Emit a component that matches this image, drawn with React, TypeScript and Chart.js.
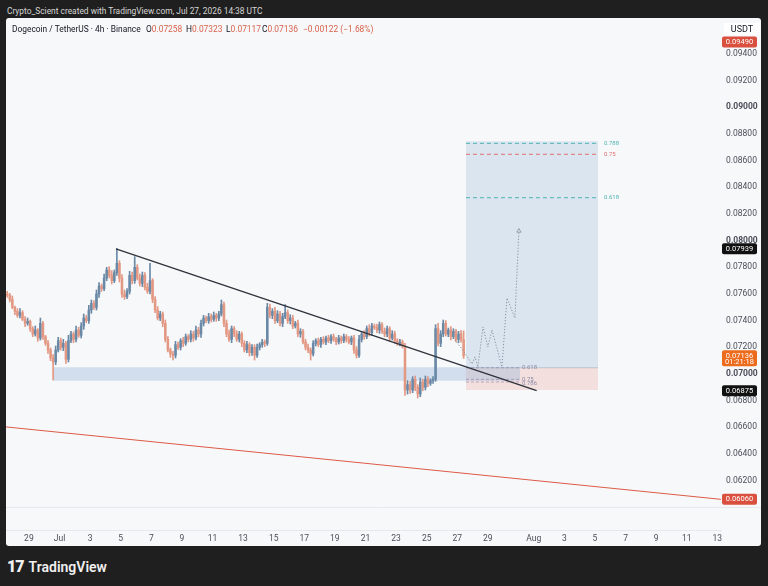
import { useEffect, useRef } from "react";
import { Chart, registerables } from "chart.js";

Chart.register(...registerables);

const FONT = "Roboto, 'Noto Sans', sans-serif";

// ---- candle data (prices in 1e-5 USDT units), 4h candles from Jun 27 12:00 ----
const CANDLE_START_DAY = -3.5; // days relative to Jul 1 00:00
const CANDLES_PER_DAY = 6;
const FIRST_OPEN = 7600;
const CLOSES = [
  7590, 7560, 7500, 7470, 7440, 7460, 7410, 7380, 7395, 7340, 7300, 7330, 7270, 7380, 7280, 7230, 7180, 7120, 7090, 7180,
  7250, 7200, 7230, 7110, 7250, 7300, 7260, 7330, 7290, 7360, 7420, 7400, 7480, 7530, 7500, 7600, 7660, 7640, 7720, 7780,
  7740, 7700, 7760, 7830, 7720, 7600, 7580, 7620, 7740, 7700, 7800, 7720, 7680, 7740, 7650, 7620, 7700, 7560, 7480, 7420,
  7450, 7380, 7260, 7180, 7150, 7140, 7220, 7200, 7250, 7230, 7280, 7260, 7300, 7270, 7330, 7300, 7380, 7420, 7400, 7430,
  7410, 7440, 7420, 7450, 7520, 7380, 7300, 7260, 7340, 7300, 7260, 7300, 7230, 7180, 7220, 7160, 7200, 7140, 7200, 7220,
  7240, 7230, 7500, 7440, 7470, 7400, 7450, 7380, 7430, 7460, 7400, 7420, 7360, 7380, 7300, 7320, 7240, 7200, 7180, 7150,
  7230, 7250, 7220, 7260, 7240, 7270, 7250, 7280, 7260, 7240, 7270, 7250, 7280, 7260, 7240, 7270, 7180, 7140, 7260, 7300,
  7280, 7340, 7310, 7360, 7350, 7330, 7370, 7320, 7300, 7340, 7270, 7300, 7250, 7230, 7240, 7210, 6880, 6920, 6880, 6960,
  6900, 6850, 6940, 6900, 6960, 6930, 6950, 6960, 7340, 7230, 7300, 7380, 7300, 7330, 7280, 7320, 7260, 7300, 7258, 7136,
];
const UP_WICKS = [
  20, 15, 25, 10, 20, 30, 15, 20, 25, 10, 15, 30, 10, 40, 15, 10, 20, 15, 25, 30,
  25, 20, 30, 15, 40, 20, 15, 30, 20, 25, 30, 20, 35, 25, 20, 30, 25, 15, 30, 20,
  25, 35, 20, 110, 20, 25, 30, 20, 30, 25, 80, 20, 30, 25, 20, 30, 130, 15, 20, 25,
  20, 15, 25, 20, 15, 20, 25, 20, 15, 25, 20, 15, 25, 20, 30, 20, 25, 20, 15, 25,
  20, 25, 15, 20, 35, 20, 25, 30, 20, 15, 25, 20, 15, 20, 25, 15, 20, 20, 25, 15,
  20, 15, 30, 25, 20, 30, 25, 20, 25, 60, 20, 25, 20, 15, 25, 20, 15, 20, 25, 15,
  20, 15, 20, 15, 20, 15, 20, 15, 20, 15, 20, 15, 20, 15, 20, 15, 20, 25, 30, 20,
  25, 20, 30, 20, 15, 25, 20, 15, 25, 20, 15, 25, 20, 15, 20, 15, 20, 30, 25, 20,
  25, 20, 30, 20, 25, 20, 15, 20, 30, 40, 25, 25, 20, 15, 25, 20, 15, 20, 25, 65,
];
const DOWN_WICKS = [
  15, 20, 10, 25, 15, 20, 10, 25, 15, 20, 20, 15, 25, 15, 20, 15, 25, 20, 135, 20,
  15, 20, 25, 30, 20, 15, 25, 20, 15, 20, 25, 15, 20, 25, 15, 20, 25, 20, 15, 20,
  20, 25, 15, 20, 30, 25, 20, 15, 20, 25, 20, 15, 20, 25, 20, 15, 20, 25, 20, 15,
  20, 25, 20, 15, 25, 35, 20, 15, 20, 25, 15, 20, 20, 25, 15, 20, 25, 20, 15, 20,
  20, 15, 25, 20, 15, 25, 20, 15, 25, 20, 15, 20, 25, 15, 20, 25, 20, 35, 15, 20,
  20, 25, 15, 20, 25, 20, 15, 20, 25, 15, 20, 25, 20, 15, 20, 25, 15, 20, 20, 45,
  15, 20, 15, 20, 15, 20, 15, 20, 15, 20, 15, 20, 15, 20, 15, 20, 25, 20, 15, 20,
  20, 15, 25, 20, 15, 20, 25, 15, 20, 20, 25, 15, 20, 15, 20, 15, 40, 30, 25, 20,
  25, 30, 20, 25, 20, 25, 15, 20, 15, 20, 25, 20, 15, 20, 25, 15, 20, 25, 20, 19,
];

// ---- axes ----
const X_MIN_DAY = -3.497;
const X_MAX_DAY = 43.24;
const X_TICK_DAYS = [-2, 0, 2, 4, 6, 8, 10, 12, 14, 16, 18, 20, 22, 24, 26, 28, 31, 33, 35, 37, 39, 41, 43];
const X_TICK_LABELS = ["29", "Jul", "3", "5", "7", "9", "11", "13", "15", "17", "19", "21", "23", "25", "27", "29", "Aug", "3", "5", "7", "9", "11", "13"];
const Y_MIN = 0.0583;
const Y_MAX = 0.0967;
const Y_TICKS = [0.062, 0.064, 0.066, 0.068, 0.07, 0.072, 0.074, 0.076, 0.078, 0.08, 0.082, 0.084, 0.086, 0.088, 0.09, 0.092, 0.094];

// ---- drawings ----
const TREND_DAYS = [3.69, 31.19];
const TREND_PRICES = [0.07939, 0.06875];
const RED_LINE_DAYS = [-3.497, 43.24];
const RED_LINE_PRICES = [0.06603, 0.0606];
const PROJECTION_DAYS = [25.85, 26.37, 26.96, 27.16, 27.35, 27.68, 28.0, 28.27, 28.92, 29.25, 29.77, 30.03];
const PROJECTION_PRICES = [0.07255, 0.0718, 0.07075, 0.07128, 0.07053, 0.07353, 0.07203, 0.0733, 0.07053, 0.0757, 0.0742, 0.08073];
const SUPPORT_DAYS = [-0.42, 30.1];
const SUPPORT_TOP = 0.0705;
const SUPPORT_BOTTOM = 0.0695;
const POSITION_DAYS = [26.57, 35.2];
const POSITION_ENTRY = 0.07047;
const POSITION_TARGET = 0.08745;
const POSITION_STOP = 0.0688;
const FIB_LABELS = ["0.788", "0.75", "0.618"];
const FIB_PRICES = [0.0873, 0.08648, 0.08322];
const FIB_COLORS = ["#4fb3b0", "#e06f6f", "#4fb3b0"];
const SMALL_FIB_DAYS = [26.57, 30.1];
const SMALL_FIB_LABELS = ["0.618", "0.75", "0.786"];
const SMALL_FIB_PRICES = [0.07047, 0.0696, 0.0694];
const PANE_DIVIDER_PRICE = 0.06005;

const BADGE_PRICES = [0.0949, 0.07939, 0.07136, 0.06875, 0.0606];
const BADGE_TEXTS = ["0.09490", "0.07939", "0.07136", "0.06875", "0.06060"];
const BADGE_SUBS = ["", "", "01:21:18", "", ""];
const BADGE_COLORS = ["#d9503f", "#111111", "#ec6b1c", "#111111", "#d9503f"];

const UP_COLOR = "#6a89a6";
const DOWN_COLOR = "#e39883";

const badgePlugin = {
  id: "tvDecor",
  beforeDatasetsDraw(chart: any) {
    const { ctx, scales } = chart;
    const py = Math.round(scales.y.getPixelForValue(PANE_DIVIDER_PRICE)) + 0.5;
    ctx.save();
    ctx.strokeStyle = "#e6e8ec";
    ctx.lineWidth = 1;
    ctx.beginPath();
    ctx.moveTo(0, py);
    ctx.lineTo(chart.width, py);
    ctx.stroke();
    ctx.restore();
  },
  afterDatasetsDraw(chart: any) {
    const { ctx, scales } = chart;
    const x = scales.x;
    const y = scales.y;
    ctx.save();
    ctx.font = `6px ${FONT}`;
    ctx.textAlign = "left";
    ctx.textBaseline = "middle";
    FIB_LABELS.forEach((t, i) => {
      ctx.fillStyle = FIB_COLORS[i];
      ctx.fillText(t, x.getPixelForValue(POSITION_DAYS[1]) + 6, y.getPixelForValue(FIB_PRICES[i]));
    });
    ctx.fillStyle = "#8c8aa8";
    SMALL_FIB_LABELS.forEach((t, i) => {
      ctx.fillText(t, x.getPixelForValue(SMALL_FIB_DAYS[1]) + 2, y.getPixelForValue(SMALL_FIB_PRICES[i]) + (i === 2 ? 1 : 0));
    });
    ctx.restore();
  },
  afterDraw(chart: any) {
    const { ctx, chartArea, scales } = chart;
    const y = scales.y;
    ctx.save();
    ctx.textAlign = "center";
    ctx.textBaseline = "middle";
    ctx.font = `7.5px ${FONT}`;
    BADGE_PRICES.forEach((p, i) => {
      const py = y.getPixelForValue(p);
      const sub = BADGE_SUBS[i];
      const h = sub ? 16 : 11;
      const top = sub ? py - 5.5 : py - h / 2;
      const left = chartArea.right + 1;
      ctx.fillStyle = BADGE_COLORS[i];
      ctx.beginPath();
      ctx.roundRect(left, top, 35, h, 2);
      ctx.fill();
      ctx.fillStyle = "#ffffff";
      ctx.fillText(BADGE_TEXTS[i], left + 17.5, top + 5.7);
      if (sub) ctx.fillText(sub, left + 17.5, top + 12);
    });
    ctx.restore();
  },
};

export default function App() {
  const canvasRef = useRef<HTMLCanvasElement | null>(null);

  useEffect(() => {
    document.body.style.margin = "0";
    const canvas = canvasRef.current;
    if (!canvas) return;

    const opens = CLOSES.map((c, i) => (i === 0 ? FIRST_OPEN : CLOSES[i - 1]));
    const days = CLOSES.map((_, i) => CANDLE_START_DAY + (i + 0.5) / CANDLES_PER_DAY);
    const colors = CLOSES.map((c, i) => (c >= opens[i] ? UP_COLOR : DOWN_COLOR));
    const bodies = CLOSES.map((c, i) => ({ x: days[i], y: [opens[i] / 1e5, c / 1e5] }));
    const wicks = CLOSES.map((c, i) => ({
      x: days[i],
      y: [(Math.min(opens[i], c) - DOWN_WICKS[i]) / 1e5, (Math.max(opens[i], c) + UP_WICKS[i]) / 1e5],
    }));

    const hLine = (from: number, to: number, price: number) => [
      { x: from, y: price },
      { x: to, y: price },
    ];

    const datasets: any[] = [
      {
        type: "line",
        data: hLine(SUPPORT_DAYS[0], SUPPORT_DAYS[1], SUPPORT_TOP),
        borderWidth: 0,
        pointRadius: 0,
        fill: { value: SUPPORT_BOTTOM },
        backgroundColor: "rgba(150,180,215,0.38)",
        order: 20,
      },
      {
        type: "line",
        data: hLine(POSITION_DAYS[0], POSITION_DAYS[1], POSITION_TARGET),
        borderWidth: 0,
        pointRadius: 0,
        fill: { value: POSITION_ENTRY },
        backgroundColor: "rgba(160,190,222,0.32)",
        order: 21,
      },
      {
        type: "line",
        data: hLine(POSITION_DAYS[0], POSITION_DAYS[1], POSITION_ENTRY),
        borderWidth: 0.8,
        borderColor: "rgba(120,130,150,0.5)",
        pointRadius: 0,
        fill: { value: POSITION_STOP },
        backgroundColor: "rgba(232,150,140,0.25)",
        order: 22,
      },
      ...FIB_PRICES.map((p, i) => ({
        type: "line",
        data: hLine(POSITION_DAYS[0], POSITION_DAYS[1], p),
        borderColor: FIB_COLORS[i],
        borderWidth: 1,
        borderDash: [4, 3],
        pointRadius: 0,
        order: 5,
      })),
      ...SMALL_FIB_PRICES.map((p) => ({
        type: "line",
        data: hLine(SMALL_FIB_DAYS[0], SMALL_FIB_DAYS[1], p),
        borderColor: "rgba(130,120,160,0.7)",
        borderWidth: 0.8,
        borderDash: [3, 2],
        pointRadius: 0,
        order: 5,
      })),
      {
        type: "bar",
        data: wicks,
        backgroundColor: colors,
        barThickness: 1,
        grouped: false,
        borderWidth: 0,
        order: 3,
      },
      {
        type: "bar",
        data: bodies,
        backgroundColor: colors,
        barThickness: 1.9,
        grouped: false,
        borderWidth: 0,
        minBarLength: 1,
        order: 2,
      },
      {
        type: "line",
        data: RED_LINE_DAYS.map((d, i) => ({ x: d, y: RED_LINE_PRICES[i] })),
        borderColor: "#dd5a46",
        borderWidth: 1,
        pointRadius: 0,
        order: 1,
      },
      {
        type: "line",
        data: TREND_DAYS.map((d, i) => ({ x: d, y: TREND_PRICES[i] })),
        borderColor: "#2f333c",
        borderWidth: 1.4,
        pointRadius: 0,
        order: 1,
      },
      {
        type: "line",
        data: PROJECTION_DAYS.map((d, i) => ({ x: d, y: PROJECTION_PRICES[i] })),
        borderColor: "#8a8f9a",
        borderWidth: 1,
        borderDash: [1.2, 1.8],
        pointRadius: PROJECTION_DAYS.map((_, i) => (i === PROJECTION_DAYS.length - 1 ? 2.5 : 0)),
        pointStyle: "triangle",
        pointBackgroundColor: "rgba(0,0,0,0)",
        pointBorderColor: "#8a8f9a",
        pointBorderWidth: 0.8,
        order: 0,
      },
    ];

    const chart = new Chart(canvas, {
      type: "bar",
      data: { datasets },
      plugins: [badgePlugin],
      options: {
        animation: false,
        responsive: false,
        maintainAspectRatio: false,
        layout: { padding: 0, autoPadding: false },
        plugins: { legend: { display: false }, tooltip: { enabled: false } },
        scales: {
          x: {
            type: "linear",
            min: X_MIN_DAY,
            max: X_MAX_DAY,
            offset: false,
            grid: { display: false, drawTicks: false },
            border: { display: true, color: "#e6e8ec" },
            afterBuildTicks: (scale: any) => {
              scale.ticks = X_TICK_DAYS.map((v) => ({ value: v }));
            },
            afterFit: (scale: any) => {
              scale.height = 16;
              scale.paddingLeft = 0;
              scale.paddingRight = 0;
            },
            ticks: {
              autoSkip: false,
              maxRotation: 0,
              padding: 4,
              color: "#4a4e59",
              font: { family: FONT, size: 8.5 },
              callback: (v: any) => X_TICK_LABELS[X_TICK_DAYS.indexOf(Number(v))] ?? "",
            },
          },
          y: {
            type: "linear",
            position: "right",
            min: Y_MIN,
            max: Y_MAX,
            grid: { display: false, drawTicks: false },
            border: { display: false },
            afterBuildTicks: (scale: any) => {
              scale.ticks = Y_TICKS.map((v) => ({ value: v }));
            },
            afterFit: (scale: any) => {
              scale.width = 40;
              scale.paddingTop = 0;
              scale.paddingBottom = 0;
            },
            ticks: {
              padding: 5,
              color: "#4a4e59",
              font: (ctx: any) => {
                const v = ctx.tick ? ctx.tick.value : 0;
                const round = Math.abs(v * 100 - Math.round(v * 100)) < 1e-6;
                return { family: FONT, size: 8.5, weight: round ? "bold" : "normal" };
              },
              callback: (v: any) => Number(v).toFixed(5),
            },
          },
        },
      } as any,
    });
    return () => chart.destroy();
  }, []);

  const valStyle = { color: "#d9624c" };
  const legendItems = [
    { left: 6, el: <span style={{ color: "#131722" }}>Dogecoin / TetherUS · 4h · Binance</span> },
    { left: 140, el: <span>O<span style={valStyle}>0.07258</span></span> },
    { left: 180, el: <span>H<span style={valStyle}>0.07323</span></span> },
    { left: 220, el: <span>L<span style={valStyle}>0.07117</span></span> },
    { left: 256, el: <span>C<span style={valStyle}>0.07136</span></span> },
    { left: 297, el: <span style={valStyle}>−0.00122 (−1.68%)</span> },
  ];

  return (
    <div
      style={{
        position: "relative",
        width: 768,
        height: 586,
        background: "#1f1f1f",
        overflow: "hidden",
        fontFamily: FONT,
      }}
    >
      <div style={{ position: "absolute", left: 7, top: 6, fontSize: 8.4, lineHeight: "11px", color: "#d6d6d6", whiteSpace: "nowrap" }}>
        Crypto_Scient created with TradingView.com, Jul 27, 2026 14:38 UTC
      </div>
      <div
        style={{
          position: "absolute",
          left: 6,
          top: 18,
          width: 755,
          height: 528,
          background: "#f7f8fa",
          borderRadius: 3,
          overflow: "hidden",
        }}
      >
        <canvas ref={canvasRef} width={755} height={528} style={{ display: "block", width: 755, height: 528 }} />
        {legendItems.map((it, i) => (
          <div
            key={i}
            style={{
              position: "absolute",
              left: it.left,
              top: 5,
              fontSize: 8.4,
              lineHeight: "12px",
              color: "#131722",
              whiteSpace: "nowrap",
            }}
          >
            {it.el}
          </div>
        ))}
        <div
          style={{
            position: "absolute",
            left: 718,
            top: 5,
            width: 36,
            textAlign: "center",
            fontSize: 9,
            lineHeight: "12px",
            color: "#131722",
            background: "#ffffff",
          }}
        >
          USDT
        </div>
      </div>
      <div
        style={{
          position: "absolute",
          left: 7,
          top: 557,
          color: "#f0f0f0",
          fontSize: 14,
          fontWeight: 600,
          whiteSpace: "nowrap",
          display: "flex",
          alignItems: "center",
        }}
      >
        <span style={{ fontWeight: 900, fontSize: 16, letterSpacing: -1, marginRight: 5 }}>17</span>
        <span>TradingView</span>
      </div>
    </div>
  );
}
